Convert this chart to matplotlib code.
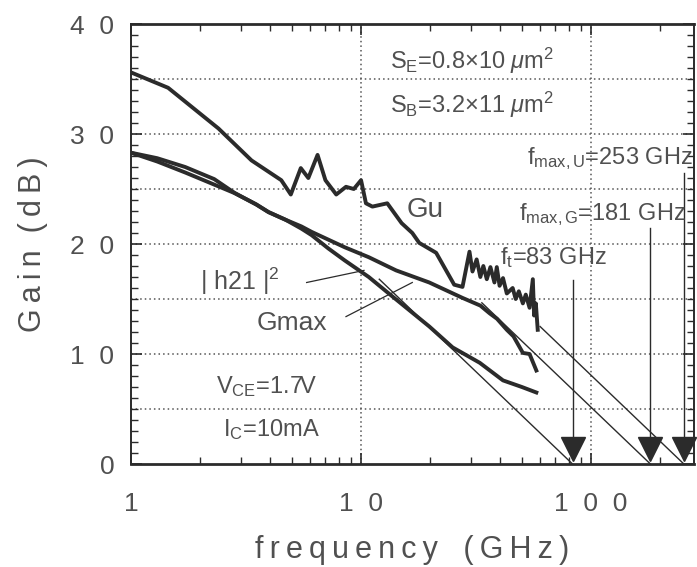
import matplotlib
matplotlib.use("Agg")
import matplotlib.pyplot as plt
from matplotlib.ticker import FixedLocator, NullFormatter
import numpy as np

plt.rcParams['font.family'] = ['Liberation Sans', 'DejaVu Sans']
plt.rcParams['mathtext.fontset'] = 'custom'
plt.rcParams['mathtext.rm'] = 'Liberation Sans'
plt.rcParams['mathtext.it'] = 'Liberation Sans:italic'

# measured curves (GHz, dB)
gu_f = [1, 1.45, 2.4, 3.34, 4.5, 4.95, 5.47, 5.9, 6.47, 7.0, 7.8, 8.6, 9.3, 10.0, 10.5,
        11.2, 13.0, 15.0, 16.7, 17.9, 21.2, 25.4, 27.6, 29.6, 30.5, 31.8, 33, 34, 35.2,
        36.5, 38, 38.9, 40, 41.4, 43, 45.6, 47, 48.5, 50.5, 52, 54, 55.8, 56.5, 57.5, 58.6]
gu_db = [35.6, 34.2, 30.5, 27.6, 25.8, 24.5, 26.9, 26.0, 28.1, 25.8, 24.5, 25.2, 25.0, 25.8, 23.7,
         23.4, 23.7, 21.9, 21.0, 20.1, 19.2, 16.3, 16.1, 19.3, 17.5, 18.6, 17.0, 18.0, 16.8,
         17.9, 16.5, 17.9, 16.2, 16.9, 15.5, 16.0, 15.0, 15.7, 14.6, 15.4, 14.2, 16.8, 13.5, 14.6, 12.2]

gmax_f = [1, 1.3, 1.72, 2.3, 2.84, 3.5, 3.96, 4.7, 5.5, 6.1, 7.2, 8.5, 10.8, 14.2, 19.8,
          27.6, 33, 36.2, 39, 43, 46, 50.5, 54, 57.8]
gmax_db = [28.3, 27.8, 27.0, 25.9, 24.6, 23.6, 22.9, 22.2, 21.6, 21.1, 20.4, 19.7, 18.8, 17.6, 16.5,
           15.1, 14.4, 13.7, 13.2, 12.2, 11.6, 10.1, 10.0, 8.5]

h21_f = [1, 1.3, 1.72, 2.3, 2.84, 3.5, 3.96, 4.7, 5.5, 6.1, 7.2, 8.5, 10.8, 13.2, 19.8,
         25, 32.8, 41.4, 50, 57.8]
h21_db = [28.3, 27.5, 26.5, 25.4, 24.6, 23.6, 22.9, 22.2, 21.4, 20.8, 19.6, 18.5, 17.0, 15.5, 12.5,
          10.6, 9.2, 7.6, 7.0, 6.5]

# -20 dB/decade extrapolations: (start frequency, cutoff frequency)
extrap_start = [12.0, 33.5, 60.0]
cutoff = [83, 181, 253]
cutoff_labels = [r'f$_\mathrm{t}$=83 GHz', r'f$_\mathrm{max,G}$=181 GHz', r'f$_\mathrm{max,U}$=253 GHz']

ink = '#2b2b2b'
txt = '#505050'
hs = '\u2009'


def spaced(s):
    return hs.join(s)


fig = plt.figure(figsize=(6.97, 5.67), dpi=100)
ax = fig.add_axes([131 / 697, 103 / 567, 563 / 697, 440 / 567])
ax.set_xscale('log')
ax.set_xlim(1, 280)
ax.set_ylim(0, 40)

for y in range(5, 40, 5):
    ax.axhline(y, color='#555555', lw=1.1, ls=(0, (1, 2)), zorder=1)
for x in [10, 100]:
    ax.axvline(x, color='#555555', lw=1.1, ls=(0, (1, 2)), zorder=1)

ax.plot(gu_f, gu_db, color=ink, lw=2.8, zorder=3)
ax.plot(gmax_f, gmax_db, color=ink, lw=2.8, zorder=3)
ax.plot(h21_f, h21_db, color=ink, lw=2.8, zorder=3)

for fs, fc in zip(extrap_start, cutoff):
    fx = np.array([fs, fc])
    ax.plot(fx, 20 * np.log10(fc / fx), color=ink, lw=1.0, zorder=2)

# cutoff markers with vertical lines
line_top = [16.7, 21.5, 26.5]
for fc, yt in zip(cutoff, line_top):
    ax.plot([fc, fc], [yt, 1.5], color=ink, lw=1.0, zorder=2)
ax.plot(cutoff, [1.4] * 3, 'v', color=ink, ms=17, zorder=4, clip_on=False)

# texts
fs_ann = 17
ax.text(13.4, 36.6, r'S$_\mathrm{E}$=0.8$\times$10 $\mu$m$^2$', fontsize=fs_ann, color=txt, va='center')
ax.text(13.4, 32.6, r'S$_\mathrm{B}$=3.2$\times$11 $\mu$m$^2$', fontsize=fs_ann, color=txt, va='center')
ax.text(278, 27.8, cutoff_labels[2], fontsize=fs_ann, color=txt, va='center', ha='right')
ax.text(258, 22.7, cutoff_labels[1], fontsize=fs_ann, color=txt, va='center', ha='right')
ax.text(40, 18.8, cutoff_labels[0], fontsize=fs_ann, color=txt, va='center', ha='left')
ax.text(15.7, 23.1, 'Gu', fontsize=20, color=txt, va='center')
ax.text(2.0, 16.6, r'| h21 |$^{2}$', fontsize=18, color=txt, va='center')
ax.text(3.5, 12.8, 'Gmax', fontsize=19, color=txt, va='center')
ax.text(2.35, 7.0, r'V$_\mathrm{CE}$=1.7V', fontsize=fs_ann, color=txt, va='center')
ax.text(2.5, 3.1, r'I$_\mathrm{C}$=10mA', fontsize=fs_ann, color=txt, va='center')

ax.plot([5.8, 10.3], [16.5, 17.6], color=ink, lw=0.9, zorder=2)
ax.plot([8.6, 16.7], [13.4, 16.5], color=ink, lw=0.9, zorder=2)

# axes styling
for s in ['bottom', 'top']:
    ax.spines[s].set_linewidth(2.0)
for s in ['left', 'right']:
    ax.spines[s].set_linewidth(1.4)
for s in ax.spines.values():
    s.set_color(ink)

ax.yaxis.set_major_locator(FixedLocator([0, 10, 20, 30, 40]))
ax.yaxis.set_minor_locator(FixedLocator(np.arange(0, 41, 1)))
ax.set_yticklabels(['0', '1  0', '2  0', '3  0', '4  0'], fontsize=19, color=txt)
ax.xaxis.set_major_locator(FixedLocator([1, 10, 100]))
ax.xaxis.set_minor_locator(FixedLocator([m * d for d in [1, 10, 100] for m in range(2, 10)]))
ax.xaxis.set_minor_formatter(NullFormatter())
ax.set_xticklabels(['1', '1  0', '1  0  0'], fontsize=19, color=txt)
ax.tick_params(which='both', direction='in', top=True, right=True, color=ink)
ax.tick_params(which='major', length=8, width=1.2)
ax.tick_params(which='minor', length=5, width=1.0)
ax.tick_params(axis='x', which='major', pad=20)
ax.tick_params(axis='y', which='major', pad=12)

ax.set_xlabel(spaced('frequency') + '   ' + spaced('(GHz)'), fontsize=22, color=txt, labelpad=14)
ax.set_ylabel(spaced('Gain') + '  ' + spaced('(dB)'), fontsize=22, color=txt, labelpad=16)

fig.savefig('out.png', dpi=100)
